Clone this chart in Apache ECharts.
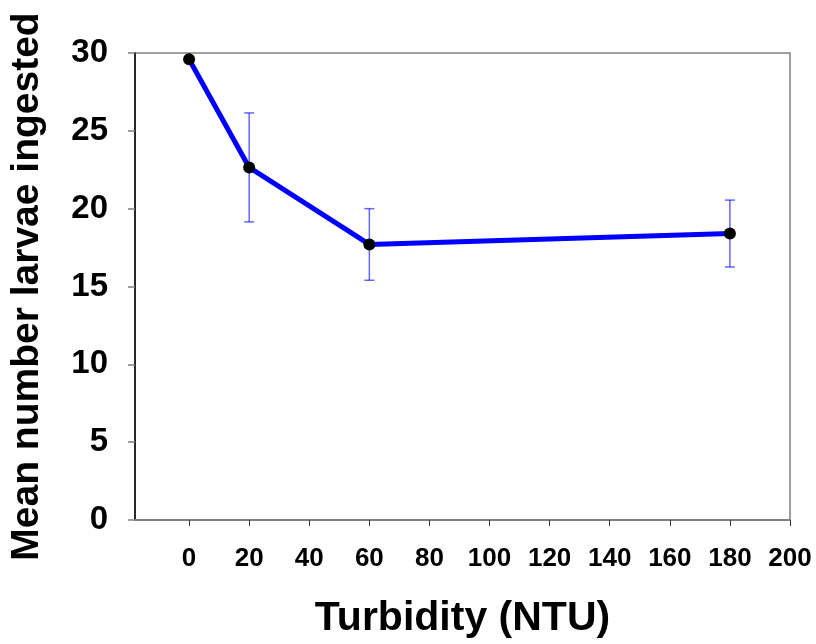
<!DOCTYPE html>
<html>
<head>
<meta charset="utf-8">
<script src="https://cdn.jsdelivr.net/npm/echarts@6/dist/echarts.min.js"></script>
<style>html,body{margin:0;padding:0;background:#fff;}#chart{width:816px;height:644px;}</style>
</head>
<body>
<div id="chart"></div>
<script>
const turbidity = [0, 20, 60, 180];
const meanLarvae = [29.6, 22.65, 17.7, 18.4];
const errLarvae = [0, 3.5, 2.3, 2.15];
const xTickValues = [0, 20, 40, 60, 80, 100, 120, 140, 160, 180, 200];
const xTitle = 'Turbidity (NTU)';
const yTitle = 'Mean number larvae ingested';

const font = '"Liberation Sans", Arial, sans-serif';
const lineData = turbidity.map((x, i) => [x, meanLarvae[i]]);
const errData = turbidity.map((x, i) => [x, meanLarvae[i] - errLarvae[i], meanLarvae[i] + errLarvae[i]]);

const chart = echarts.init(document.getElementById('chart'), null, {renderer: 'canvas'});
chart.setOption({
  animation: false,
  backgroundColor: '#fff',
  grid: {left: 135, right: 26, top: 53, bottom: 124, show: true, borderColor: '#808080', borderWidth: 1.5,
         containLabel: false, outerBoundsMode: 'none'},
  xAxis: {
    type: 'value', min: -18, max: 200,
    name: xTitle, nameLocation: 'middle', nameGap: 78,
    nameTextStyle: {fontFamily: font, fontWeight: 'bold', fontSize: 41, color: '#000'},
    axisLine: {onZero: false, lineStyle: {color: '#808080', width: 2}},
    axisTick: {show: true, length: 6, customValues: xTickValues, lineStyle: {color: '#333', width: 1}},
    axisLabel: {customValues: xTickValues, margin: 26, fontFamily: font, fontWeight: 'bold', fontSize: 26, color: '#000'},
    splitLine: {show: false}
  },
  yAxis: {
    type: 'value', min: 0, max: 30, interval: 5,
    name: yTitle, nameLocation: 'middle', nameGap: 88,
    nameTextStyle: {fontFamily: font, fontWeight: 'bold', fontSize: 39, color: '#000'},
    axisLine: {show: true, onZero: false, lineStyle: {color: '#000', width: 1.5}},
    axisTick: {show: true, length: 7, lineStyle: {color: '#808080', width: 1.5}},
    axisLabel: {margin: 27, fontFamily: font, fontWeight: 'bold', fontSize: 33, color: '#000'},
    splitLine: {show: false}
  },
  series: [
    {
      type: 'custom',
      z: 1,
      data: errData,
      renderItem: function (params, api) {
        const x = api.value(0);
        const lo = api.coord([x, api.value(1)]);
        const hi = api.coord([x, api.value(2)]);
        const w = 5;
        const style = {stroke: 'rgba(0,0,255,0.6)', lineWidth: 1.5, fill: null};
        return {
          type: 'group',
          children: [
            {type: 'line', shape: {x1: lo[0], y1: lo[1], x2: hi[0], y2: hi[1]}, style: style},
            {type: 'line', shape: {x1: hi[0] - w, y1: hi[1], x2: hi[0] + w, y2: hi[1]}, style: style},
            {type: 'line', shape: {x1: lo[0] - w, y1: lo[1], x2: lo[0] + w, y2: lo[1]}, style: style}
          ]
        };
      }
    },
    {
      type: 'line',
      z: 2,
      data: lineData,
      symbol: 'circle',
      symbolSize: 12,
      lineStyle: {color: '#0000ff', width: 5},
      itemStyle: {color: '#000', borderColor: '#000', borderWidth: 0}
    }
  ]
});
</script>
</body>
</html>
